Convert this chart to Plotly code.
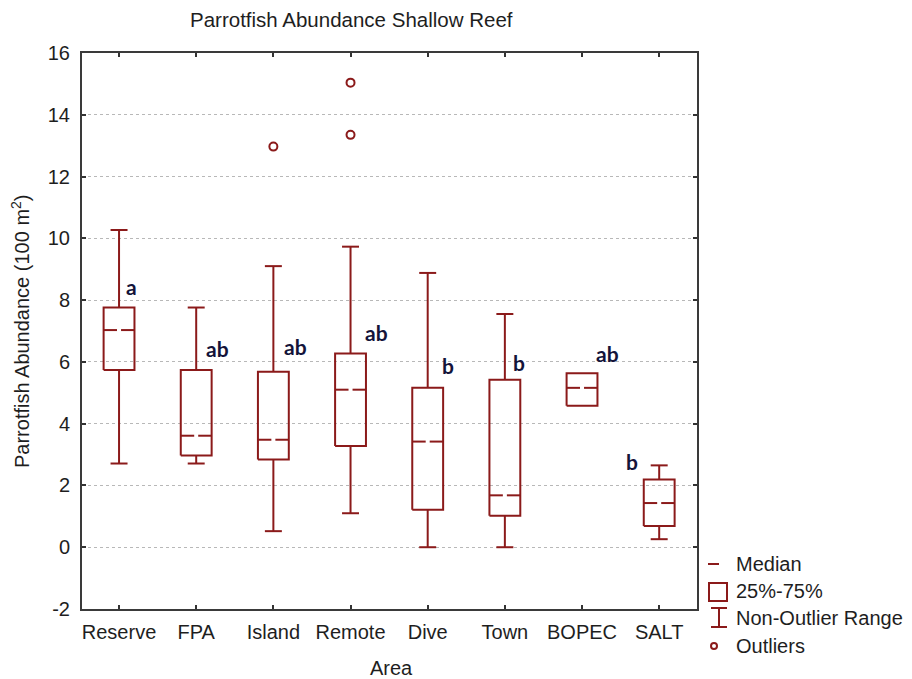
import plotly.graph_objects as go

# ---- data ----
areas = ["Reserve", "FPA", "Island", "Remote", "Dive", "Town", "BOPEC", "SALT"]
whisker_low = [2.71, 2.71, 0.52, 1.10, 0.00, 0.00, 4.58, 0.26]
q1 = [5.74, 2.97, 2.84, 3.28, 1.21, 1.02, 4.58, 0.69]
median = [7.03, 3.61, 3.48, 5.10, 3.42, 1.68, 5.16, 1.43]
q3 = [7.76, 5.74, 5.68, 6.27, 5.16, 5.42, 5.63, 2.19]
whisker_high = [10.27, 7.76, 9.10, 9.73, 8.88, 7.55, 5.63, 2.65]
outlier_area = ["Island", "Remote", "Remote"]
outlier_value = [12.97, 15.04, 13.35]
group_letters = ["a", "ab", "ab", "ab", "b", "b", "ab", "b"]
letter_x = [0.165, 1.28, 2.29, 3.33, 4.26, 5.18, 6.33, 6.65]
letter_y = [8.43, 6.43, 6.50, 6.95, 5.88, 5.98, 6.27, 2.78]
y_ticks = [-2, 0, 2, 4, 6, 8, 10, 12, 14, 16]

# ---- styles ----
RED = "#8b1a1a"
TXT = "#1e1e1e"
FONT = "Liberation Sans, Arial, sans-serif"
HW = 0.20    # half box width
CW = 0.11    # half cap width
GAP = 0.026  # half gap in median line

OFF = 8  # page body margin
W, H = 912 - OFF, 679 - OFF
PL, PR, PT, PB = 82, 697, 53, 609  # plot area in page pixels
L, T = PL - OFF, PT - OFF
R, B = W - (PR - OFF), H - (PB - OFF)

box_x, box_y = [], []
med_x, med_y = [], []
wh_x, wh_y = [], []
for i in range(len(areas)):
    box_x += [i - HW, i + HW, i + HW, i - HW, i - HW, None]
    box_y += [q1[i], q1[i], q3[i], q3[i], q1[i], None]
    med_x += [i - HW, i - GAP, None, i + GAP, i + HW, None]
    med_y += [median[i], median[i], None, median[i], median[i], None]
    if whisker_high[i] > q3[i]:
        wh_x += [i, i, None, i - CW, i + CW, None]
        wh_y += [q3[i], whisker_high[i], None, whisker_high[i], whisker_high[i], None]
    if whisker_low[i] < q1[i]:
        wh_x += [i, i, None, i - CW, i + CW, None]
        wh_y += [q1[i], whisker_low[i], None, whisker_low[i], whisker_low[i], None]

fig = go.Figure()
line = dict(color=RED, width=2)
fig.add_trace(go.Scatter(x=wh_x, y=wh_y, mode="lines", line=line, hoverinfo="skip", showlegend=False))
fig.add_trace(go.Scatter(x=box_x, y=box_y, mode="lines", line=line, hoverinfo="skip", showlegend=False))
fig.add_trace(go.Scatter(x=med_x, y=med_y, mode="lines", line=line, hoverinfo="skip", showlegend=False))
fig.add_trace(go.Scatter(
    x=[areas.index(a) for a in outlier_area], y=outlier_value, mode="markers",
    marker=dict(symbol="circle-open", size=8, color=RED, line=dict(width=2, color=RED)),
    showlegend=False))

# group letters
for lx, ly, t in zip(letter_x, letter_y, group_letters):
    fig.add_annotation(x=lx, y=ly, xref="x", yref="y", text="<b>%s</b>" % t, showarrow=False,
                       font=dict(family="Lato, Open Sans, sans-serif", size=21, color="#14143a"))

# page pixel -> paper (plot-area relative) helpers
def px(x):
    return (x - PL) / (PR - PL)

def py(y):
    return (PB - y) / (PB - PT)

shapes = []
lg = dict(color=RED, width=2)
shapes.append(dict(type="line", xref="paper", yref="paper", x0=px(708), x1=px(719), y0=py(564), y1=py(564), line=lg))
shapes.append(dict(type="rect", xref="paper", yref="paper", x0=px(709), x1=px(727), y0=py(583), y1=py(601), line=lg))
shapes.append(dict(type="line", xref="paper", yref="paper", x0=px(719), x1=px(719), y0=py(608), y1=py(627), line=lg))
shapes.append(dict(type="line", xref="paper", yref="paper", x0=px(711), x1=px(727), y0=py(608), y1=py(608), line=lg))
shapes.append(dict(type="line", xref="paper", yref="paper", x0=px(711), x1=px(727), y0=py(627), y1=py(627), line=lg))
shapes.append(dict(type="circle", xref="paper", yref="paper", x0=px(711), x1=px(717), y0=py(643), y1=py(649), line=lg))

legend_items = ["Median", "25%-75%", "Non-Outlier Range", "Outliers"]
legend_rows = [564, 591, 618, 646]
for t, yy in zip(legend_items, legend_rows):
    fig.add_annotation(x=px(734), y=py(yy), xref="paper", yref="paper", text=t, showarrow=False,
                       xanchor="left", yanchor="middle", font=dict(family=FONT, size=20, color=TXT))

# titles
fig.add_annotation(x=px(351), y=py(20), xref="paper", yref="paper", text="Parrotfish Abundance Shallow Reef",
                   showarrow=False, xanchor="center", yanchor="middle",
                   font=dict(family=FONT, size=20.5, color=TXT))
fig.add_annotation(x=px(20), y=py(331), xref="paper", yref="paper",
                   text="Parrotfish Abundance (100 m<sup>2</sup>)", textangle=-90,
                   showarrow=False, xanchor="center", yanchor="middle",
                   font=dict(family=FONT, size=20, color=TXT))
fig.add_annotation(x=px(391), y=py(668), xref="paper", yref="paper", text="Area",
                   showarrow=False, xanchor="center", yanchor="middle",
                   font=dict(family=FONT, size=20, color=TXT))

fig.update_layout(
    width=W, height=H,
    margin=dict(l=L, r=R, t=T, b=B),
    plot_bgcolor="white", paper_bgcolor="white",
    shapes=shapes,
    showlegend=False,
    xaxis=dict(range=[-0.48, 7.49], tickmode="array", tickvals=list(range(len(areas))), ticktext=areas,
               ticks="inside", ticklen=4, tickwidth=2, tickcolor="#333333",
               showline=True, linecolor="#3a3a3a", linewidth=2, mirror="ticks",
               showgrid=False, zeroline=False, ticklabelstandoff=4,
               tickfont=dict(family=FONT, size=20, color=TXT)),
    yaxis=dict(range=[-2, 16], tickmode="array", tickvals=y_ticks, ticktext=[str(v) for v in y_ticks],
               ticks="inside", ticklen=4, tickwidth=2, tickcolor="#333333",
               showline=True, linecolor="#3a3a3a", linewidth=2, mirror="ticks",
               showgrid=True, gridcolor="#b8b8b8", griddash="dot", gridwidth=1,
               zeroline=False, ticklabelstandoff=6,
               tickfont=dict(family=FONT, size=20, color=TXT)),
)

fig.write_html("out.html")
